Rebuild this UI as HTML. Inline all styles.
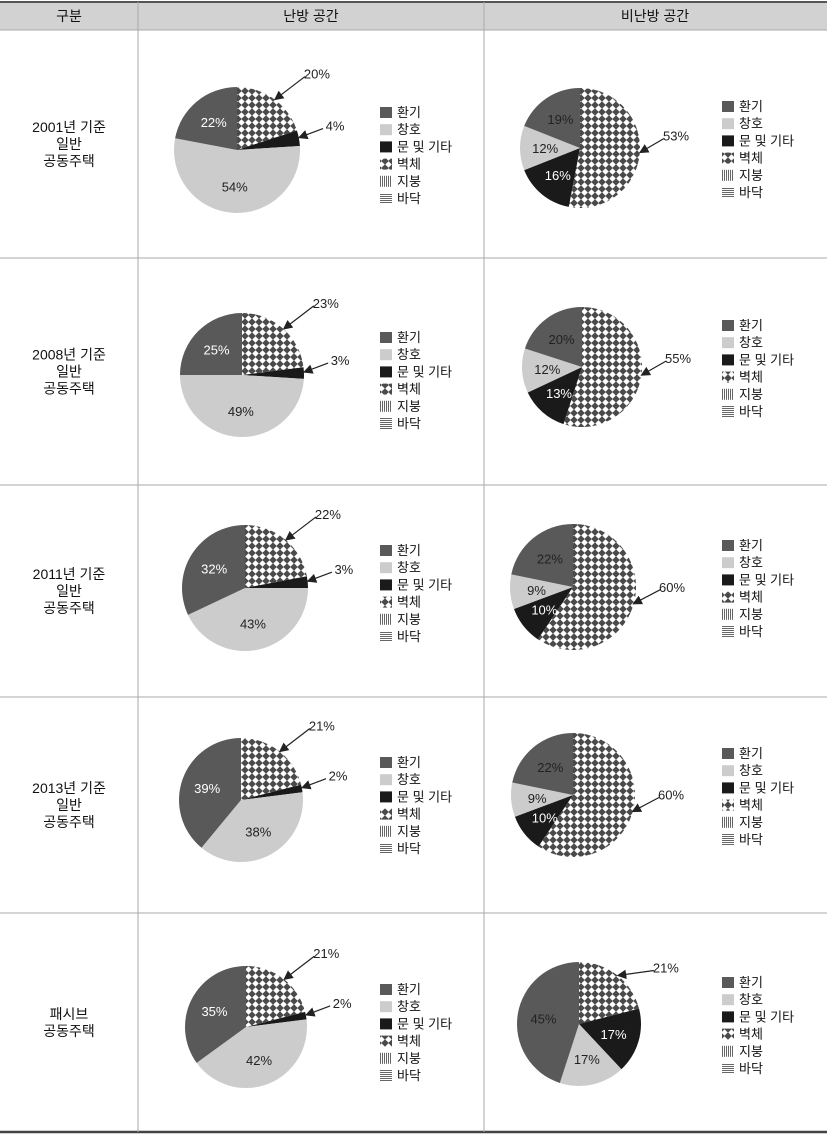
<!DOCTYPE html>
<html><head><meta charset="utf-8"><style>
body{margin:0;background:#fff;font-family:"Liberation Sans","Noto Sans CJK KR",sans-serif;}
svg text{font-family:"Liberation Sans","Noto Sans CJK KR",sans-serif;}
</style></head><body>
<svg id="c" width="827" height="1135" viewBox="0 0 827 1135" xmlns="http://www.w3.org/2000/svg">
<defs>
<pattern id="chk" width="7" height="7" patternUnits="userSpaceOnUse">
<rect width="7" height="7" fill="#4a4a4a"/>
<rect x="1.2" y="1.2" width="4.6" height="4.6" fill="#fff" transform="rotate(45 3.5 3.5)"/>
</pattern>
<pattern id="vl" width="2" height="4" patternUnits="userSpaceOnUse"><rect width="2" height="4" fill="#fff"/><rect width="1" height="4" fill="#666"/></pattern>
<pattern id="hl" width="4" height="2" patternUnits="userSpaceOnUse"><rect width="4" height="2" fill="#fff"/><rect width="4" height="1" fill="#666"/></pattern>
<marker id="ah" markerWidth="8" markerHeight="8" refX="7" refY="4" orient="auto"><path d="M0,0 L8,4 L0,8 z" fill="#222"/></marker>
</defs>
</svg>
<script>
// data: order per chart = [환기, 창호, 문 및 기타, 벽체]
const categories=['환기','창호','문 및 기타','벽체','지붕','바닥'];
const rowTitles=[['2001년 기준','일반','공동주택'],['2008년 기준','일반','공동주택'],['2011년 기준','일반','공동주택'],['2013년 기준','일반','공동주택'],['패시브','공동주택']];
const heatedValues=[[22,54,4,20],[25,49,3,23],[32,43,3,22],[39,38,2,21],[35,42,2,21]];
const unheatedValues=[[19,12,16,53],[20,12,13,55],[22,9,10,60],[22,9,10,60],[45,17,17,21]];
const NS='http://www.w3.org/2000/svg';
const svg=document.getElementById('c');
function mk(t,a,p){const e=document.createElementNS(NS,t);for(const k in a)e.setAttribute(k,a[k]);(p||svg).appendChild(e);return e;}
// table
const rowY=[30,258,485,697,913,1132];
let hdr=mk('rect',{x:0,y:2,width:827,height:28,fill:'#d2d2d2'});


mk('line',{x1:0,y1:2,x2:827,y2:2,stroke:'#555','stroke-width':2});
[['구분',69],['난방 공간',311],['비난방 공간',655]].forEach(([t,x],i)=>{
 const e=mk('text',{x:x,y:21,'text-anchor':'middle','font-size':14,fill:'#111'});e.textContent=t;
 
 
});
rowY.forEach((y,i)=>{mk('line',{x1:0,y1:y,x2:827,y2:y,stroke:i==5?'#444':'#aaa','stroke-width':i==5?2.5:1});});
[138,484].forEach(x=>mk('line',{x1:x,y1:2,x2:x,y2:1132,stroke:'#aaa','stroke-width':1}));
const fills=['#595959','#cccccc','#1a1a1a','url(#chk)','url(#vl)','url(#hl)'];
const leftC=[[237,150,63],[242,375,62],[245,588,63],[241,800,62],[246,1027,61]];
const rightC=[[580,148,60],[582,367,60],[573,587,63],[573,795,62],[579,1024,62]];
function pt(cx,cy,r,a){return [cx+r*Math.sin(a),cy-r*Math.cos(a)];}
function pie(vals,[cx,cy,r],side,row){
 const g=mk('g',{});
 
 
 const tot=vals.reduce((a,b)=>a+b,0);
 const order=[3,2,1,0];// clockwise from top: 벽체, 문, 창호, 환기
 let a=0;
 order.forEach(idx=>{
  const v=vals[idx],a1=a+v/tot*2*Math.PI;
  const [x0,y0]=pt(cx,cy,r,a),[x1,y1]=pt(cx,cy,r,a1);
  const p=mk('path',{d:`M${cx},${cy} L${x0},${y0} A${r},${r} 0 ${a1-a>Math.PI?1:0} 1 ${x1},${y1} Z`,fill:fills[idx]},g);
  
  
  const m=(a+a1)/2;
  let outside=(idx==3)||(idx==2&&side=='heated');
  const t=mk('text',{'font-size':13,'text-anchor':'middle'},g);
  
  
  t.textContent=v+'%';
  if(!outside){
   const [lx,ly]=pt(cx,cy,r*0.58,m);
   t.setAttribute('x',lx);t.setAttribute('y',ly+5);
   let col='#222';
   if(idx==2)col='#fff';
   if(idx==0&&side=='heated')col='#fff';
   t.setAttribute('fill',col);
  }else{
   const [tx,ty]=pt(cx,cy,r*0.97,m);
   let lx,ly;
   if(idx==3&&side=='heated'){lx=tx+36;ly=ty-22;}
   else if(idx==3&&vals[3]<40){lx=tx+42;ly=ty-4;}
   else if(idx==3){lx=cx+r+28;ly=ty-13;}
   else {lx=tx+30;ly=ty-8;}
   t.setAttribute('x',lx+8);t.setAttribute('y',ly);t.setAttribute('fill','#222');
   mk('line',{x1:lx-4,y1:ly-2,x2:tx+2,y2:ty-1,stroke:'#222','stroke-width':1.2,'marker-end':'url(#ah)'},g);
  }
  a=a1;
 });
}
function legend(x,y0,name){
 const g=mk('g',{});
 
 
 categories.forEach((c,i)=>{
  const y=y0+i*17.2;
  mk('rect',{x:x,y:y-10,width:12,height:11,fill:fills[i]},g);
  const t=mk('text',{x:x+17,y:y,'font-size':13,fill:'#111'},g);
  t.textContent=c;
  
  
 });
}
rowTitles.forEach((lines,i)=>{
 const mid=(rowY[i]+rowY[i+1])/2;
 const start=mid-(lines.length-1)*8.5+5;
 lines.forEach((l,j)=>{
  const t=mk('text',{x:69,y:start+j*17,'text-anchor':'middle','font-size':14,fill:'#111'});
  t.textContent=l;
  
  
 });
 pie(heatedValues[i],leftC[i],'heated',i);
 pie(unheatedValues[i],rightC[i],'unheated',i);
 const ly=leftC[i][1]-33;
 legend(380,ly,'heated-legend-row'+(i+1));
 legend(722,rightC[i][1]-37,'unheated-legend-row'+(i+1));
});
</script>
</body></html>
